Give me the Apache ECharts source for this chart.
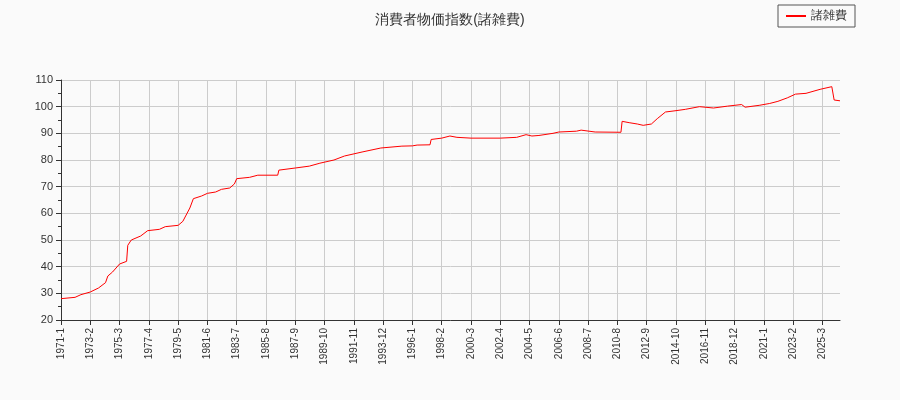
<!DOCTYPE html><html><head><meta charset="utf-8"><script src="https://cdn.jsdelivr.net/npm/echarts@6/dist/echarts.min.js"></script></head><body style="margin:0;background:#fafafa"><div id="c" style="width:900px;height:400px"></div><script>
const startYear=1971, endYear=2026, endMonth=6;
const months=[];for(let y=startYear;y<=endYear;y++){for(let m=1;m<=12;m++){if(y===endYear&&m>endMonth)break;months.push(y+'-'+m);}}
const pointMonths=['1971-1','1972-1','1972-6','1973-2','1973-9','1974-3','1974-5','1974-9','1975-3','1975-9','1975-10','1976-1','1976-9','1977-3','1978-1','1978-6','1979-5','1979-9','1980-3','1980-6','1981-1','1981-6','1982-1','1982-6','1983-1','1983-5','1983-6','1983-7','1984-6','1985-1','1986-6','1986-7','1987-9','1988-9','1989-6','1990-6','1991-3','1992-6','1993-10','1995-4','1996-1','1996-5','1997-4','1997-5','1998-2','1998-9','1999-3','2000-3','2002-4','2003-6','2004-2','2004-7','2005-1','2006-1','2006-6','2007-9','2008-1','2009-1','2010-11','2010-12','2011-6','2012-1','2012-6','2013-1','2013-6','2014-1','2014-10','2015-6','2016-6','2017-6','2018-6','2019-6','2019-9','2020-9','2021-6','2022-1','2022-9','2023-4','2024-1','2025-1','2025-11','2026-1','2026-6'];
const values=[28,28.5,29.5,30.5,32,34,36.5,38,41,42,48,50,51.5,53.5,54,55,55.5,57,62,65.5,66.5,67.5,68,69,69.5,71,71,73,73.5,74.3,74.3,76.2,77,77.7,78.8,80,81.5,83,84.5,85.2,85.3,85.6,85.7,87.7,88.2,89,88.5,88.2,88.2,88.5,89.5,89,89.2,90,90.5,90.8,91.2,90.5,90.4,94.5,94,93.5,93,93.5,95.5,98,98.5,99,100,99.5,100.2,100.8,99.8,100.5,101.2,102,103.3,104.7,105,106.5,107.5,102.5,102.2];
const chart=echarts.init(document.getElementById('c'));
chart.setOption({backgroundColor:'#fafafa',
title:{text:'消費者物価指数(諸雑費)',left:'center',top:8,textStyle:{fontSize:14,fontWeight:'normal',color:'#333'}},
legend:{right:45,top:5,itemWidth:20,itemHeight:2,borderColor:'#555',borderWidth:1,borderRadius:0,padding:[5,8],textStyle:{fontSize:12,color:'#333'},data:[{name:'諸雑費',icon:'rect'}]},
grid:{left:61,right:60,top:80,bottom:80},
xAxis:{type:'category',data:months,boundaryGap:false,axisLine:{lineStyle:{color:'#333'}},axisTick:{interval:24},axisLabel:{interval:24,rotate:90,fontSize:10,color:'#333'},splitLine:{show:true,interval:24,lineStyle:{color:'#ccc'}}},
yAxis:{type:'value',min:20,max:110,interval:10,axisLine:{show:true,lineStyle:{color:'#333'}},axisTick:{show:true},axisLabel:{fontSize:11,color:'#333'},splitLine:{lineStyle:{color:'#ccc'}},minorTick:{show:true,splitNumber:2}},
series:[{name:'諸雑費',type:'line',showSymbol:false,color:'red',lineStyle:{width:1},data:pointMonths.map((m,i)=>[m,values[i]])}]});
</script></body></html>
